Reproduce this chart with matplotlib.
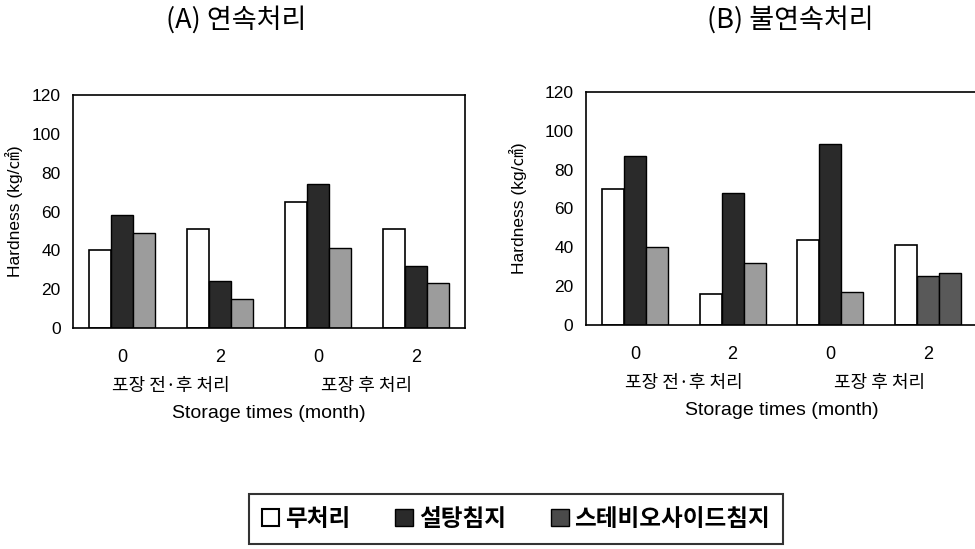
import matplotlib
matplotlib.use("Agg")
import matplotlib.pyplot as plt
from matplotlib.patches import Patch
import numpy as np

plt.rcParams['font.family'] = ['Liberation Sans', 'Noto Sans CJK KR', 'DejaVu Sans']

# ---- data ----
tick_labels = ["0", "2", "0", "2"]
group_labels = ["포장 전·후 처리", "포장 후 처리"]
series_names = ["무처리", "설탕침지", "스테비오사이드침지"]

a_untreated = [40, 51, 65, 51]
a_sugar = [58, 24, 74, 32]
a_stevioside = [49, 15, 41, 23]

b_untreated = [70, 16, 44, 41]
b_sugar = [87, 68, 93, 25]
b_stevioside = [40, 32, 17, 27]

titles = ["(A) 연속처리", "(B) 불연속처리"]
ylabel = "Hardness (kg/㎠)"
xlabel = "Storage times (month)"

fig = plt.figure(figsize=(9.75, 5.49), dpi=100)
W, H = 975, 549

def px_axes(l, r, t, b):
    return fig.add_axes([l / W, 1 - b / H, (r - l) / W, (b - t) / H])

axA = px_axes(73, 465, 95, 328)
axB = px_axes(586, 977, 92, 325)

white = "#ffffff"
black = "#2a2a2a"
gray = "#9c9c9c"
dgray = "#595959"

def draw(ax, u, s, st, sugar_colors, stev_colors, title, title_x, ylab_x):
    x = np.arange(len(u))
    w = 0.225
    ax.bar(x - w, u, w, color=white, edgecolor="black", linewidth=1.2)
    ax.bar(x, s, w, color=sugar_colors, edgecolor="black", linewidth=1.0)
    ax.bar(x + w, st, w, color=stev_colors, edgecolor="black", linewidth=1.0)
    ax.set_xlim(-0.5, 3.5)
    ax.set_ylim(0, 120)
    ax.set_yticks(range(0, 121, 20))
    ax.set_xticks(x)
    ax.set_xticklabels(tick_labels)
    ax.tick_params(axis="x", length=0, pad=15, labelsize=13)
    ax.tick_params(axis="y", length=0, pad=9, labelsize=12.5)
    for sp in ax.spines.values():
        sp.set_linewidth(1.2)
    tr = matplotlib.transforms.blended_transform_factory(ax.transData, ax.transAxes)
    ax.text(0.5, -0.25, group_labels[0], transform=tr, ha="center", va="center",
            fontsize=13, family=["Noto Sans CJK KR", "DejaVu Sans"])
    ax.text(2.5, -0.25, group_labels[1], transform=tr, ha="center", va="center",
            fontsize=13, family=["Noto Sans CJK KR", "DejaVu Sans"])
    ax.text(0.5, -0.365, xlabel, transform=ax.transAxes, ha="center", va="center",
            fontsize=14)
    ax.set_ylabel(ylabel, fontsize=12.5, family=["Liberation Sans", "Noto Sans CJK KR"])
    ax.yaxis.set_label_coords(ylab_x, 0.5)
    fig.text(title_x / W, 1 - 20 / H, title, ha="center", va="center",
             fontsize=19.5, family=["Noto Sans CJK KR", "DejaVu Sans"])

draw(axA, a_untreated, a_sugar, a_stevioside, [black] * 4, [gray] * 4,
     titles[0], 236, -0.128)
draw(axB, b_untreated, b_sugar, b_stevioside, [black] * 3 + [dgray], [gray] * 3 + [dgray],
     titles[1], 790, -0.15)

handles = [Patch(facecolor=white, edgecolor="black", linewidth=1.5),
           Patch(facecolor=black, edgecolor="black", linewidth=1.0),
           Patch(facecolor="#4a4a4a", edgecolor="black", linewidth=1.0)]
leg = fig.legend(handles, series_names, loc="center", bbox_to_anchor=(516 / W, 1 - 519 / H),
                 ncol=3, frameon=True, fancybox=False, edgecolor="black",
                 prop={"family": ["Noto Sans CJK KR", "DejaVu Sans"], "size": 17, "weight": "bold"},
                 handlelength=0.75, handleheight=0.75, handletextpad=0.25,
                 columnspacing=1.9, borderpad=0.55)
leg.get_frame().set_linewidth(1.5)

fig.savefig("out.png", dpi=100)
